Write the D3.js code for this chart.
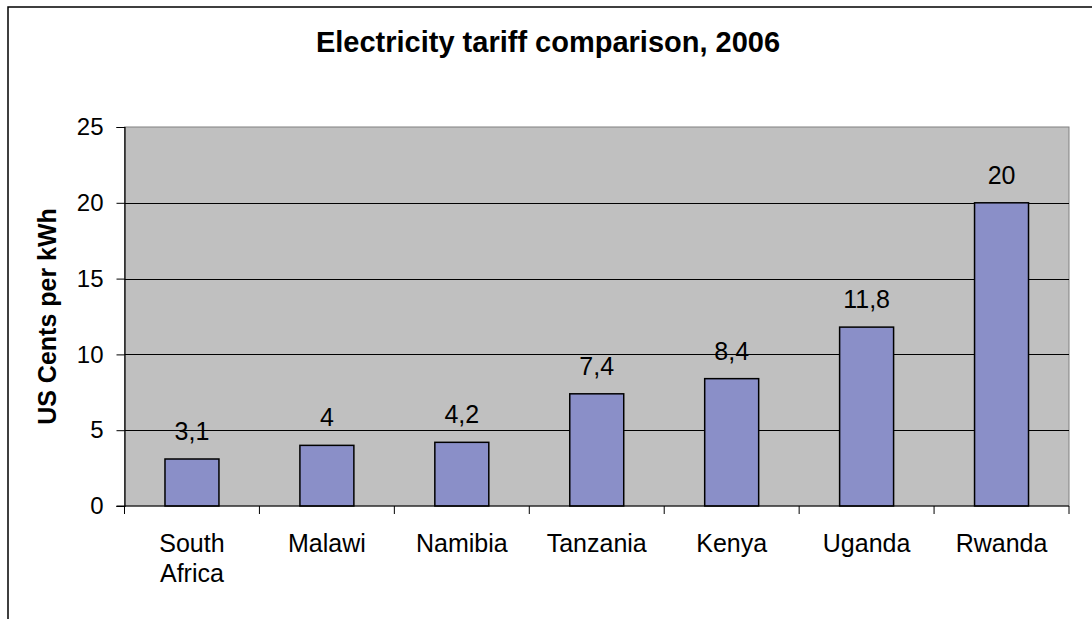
<!DOCTYPE html>
<html>
<head>
<meta charset="utf-8">
<script src="https://cdn.jsdelivr.net/npm/d3@7"></script>
<style>
  html, body { margin: 0; padding: 0; background: #fff; }
  svg { display: block; }
</style>
</head>
<body>
<div id="chart"></div>
<script>
// Data
const categories = ["South Africa", "Malawi", "Namibia", "Tanzania", "Kenya", "Uganda", "Rwanda"];
const tariffs = [3.1, 4, 4.2, 7.4, 8.4, 11.8, 20];
const yTicks = [0, 5, 10, 15, 20, 25];
const chartTitle = "Electricity tariff comparison, 2006";
const yTitle = "US Cents per kWh";

const W = 1092, H = 619;
const font = "'Liberation Sans', Arial, sans-serif";

// plot area box
const plot = { left: 124.5, top: 127, right: 1069, bottom: 506 };

const svg = d3.select("#chart").append("svg")
    .attr("width", W)
    .attr("height", H);

// outer chart border (runs off the right and bottom of the picture)
svg.append("rect")
    .attr("x", 8)
    .attr("y", 7)
    .attr("width", 1200)
    .attr("height", 1000)
    .attr("fill", "#fff")
    .attr("stroke", "#000")
    .attr("stroke-width", 1.5);

// scales
const x = d3.scaleBand()
    .domain(categories)
    .range([plot.left, plot.right])
    .paddingInner(0.6)
    .paddingOuter(0.3);

const step = (plot.right - plot.left) / categories.length;

const y = d3.scaleLinear()
    .domain([0, 25])
    .range([plot.bottom, plot.top]);

// grey plot background
svg.append("rect")
    .attr("x", plot.left)
    .attr("y", plot.top)
    .attr("width", plot.right - plot.left)
    .attr("height", plot.bottom - plot.top)
    .attr("fill", "#c0c0c0")
    .attr("stroke", "#808080")
    .attr("stroke-width", 1);

// horizontal gridlines
svg.append("g")
  .selectAll("line")
    .data(yTicks.filter(d => d > 0 && d < 25))
    .enter().append("line")
    .attr("x1", plot.left)
    .attr("x2", plot.right)
    .attr("y1", d => Math.round(y(d)) + 0.5)
    .attr("y2", d => Math.round(y(d)) + 0.5)
    .attr("stroke", "#000")
    .attr("stroke-width", 1);

// bars
svg.append("g")
  .selectAll("rect")
    .data(categories)
    .enter().append("rect")
    .attr("x", d => x(d))
    .attr("y", (d, i) => y(tariffs[i]))
    .attr("width", x.bandwidth())
    .attr("height", (d, i) => y(0) - y(tariffs[i]))
    .attr("fill", "#8a8fc8")
    .attr("stroke", "#000")
    .attr("stroke-width", 1.5);

// value labels above the bars
svg.append("g")
  .selectAll("text")
    .data(categories)
    .enter().append("text")
    .attr("x", d => x(d) + x.bandwidth() / 2)
    .attr("y", (d, i) => y(tariffs[i]) - 19)
    .attr("text-anchor", "middle")
    .style("font-family", font)
    .style("font-size", "25px")
    .style("fill", "#000")
    .text((d, i) => String(tariffs[i]).replace(".", ","));

// y axis
const yAxis = d3.axisLeft(y)
    .tickValues(yTicks)
    .tickSize(8)
    .tickPadding(13)
    .tickFormat(d3.format("d"));

const yG = svg.append("g")
    .attr("transform", `translate(${plot.left},0)`)
    .call(yAxis);
yG.select(".domain").attr("stroke", "#000").attr("stroke-width", 1.2);
yG.selectAll(".tick line").attr("stroke", "#000");
yG.selectAll("text")
    .style("font-family", font)
    .style("font-size", "24px")
    .style("fill", "#000");

// x axis line and boundary ticks
svg.append("line")
    .attr("x1", plot.left - 8)
    .attr("x2", plot.right)
    .attr("y1", plot.bottom)
    .attr("y2", plot.bottom)
    .attr("stroke", "#000")
    .attr("stroke-width", 1.2);

svg.append("g")
  .selectAll("line")
    .data(d3.range(categories.length + 1))
    .enter().append("line")
    .attr("x1", i => plot.left + i * step)
    .attr("x2", i => plot.left + i * step)
    .attr("y1", plot.bottom)
    .attr("y2", plot.bottom + 8)
    .attr("stroke", "#000")
    .attr("stroke-width", 1);

// category labels, wrapped on spaces like the original
const catLabels = svg.append("g")
  .selectAll("text")
    .data(categories)
    .enter().append("text")
    .attr("x", d => x(d) + x.bandwidth() / 2)
    .attr("y", 552)
    .attr("text-anchor", "middle")
    .style("font-family", font)
    .style("font-size", "25px")
    .style("fill", "#000");

catLabels.each(function(d) {
    const words = d.split(" ");
    const t = d3.select(this);
    words.forEach((w, i) => {
        t.append("tspan")
            .attr("x", t.attr("x"))
            .attr("dy", i === 0 ? 0 : 30)
            .text(w);
    });
});

// chart title
svg.append("text")
    .attr("x", 548)
    .attr("y", 52)
    .attr("text-anchor", "middle")
    .style("font-family", font)
    .style("font-size", "29px")
    .style("font-weight", "bold")
    .style("fill", "#000")
    .text(chartTitle);

// y axis title
svg.append("text")
    .attr("transform", `translate(56,${(plot.top + plot.bottom) / 2}) rotate(-90)`)
    .attr("text-anchor", "middle")
    .style("font-family", font)
    .style("font-size", "25px")
    .style("font-weight", "bold")
    .style("fill", "#000")
    .text(yTitle);
</script>
</body>
</html>
